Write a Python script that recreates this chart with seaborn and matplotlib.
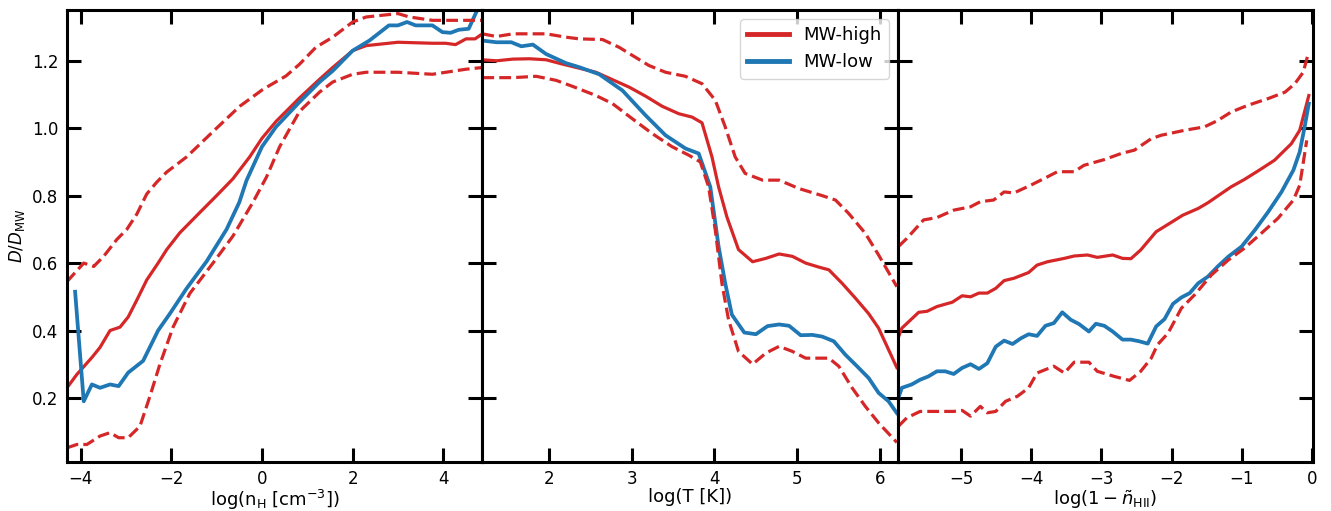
import seaborn as sns
import matplotlib
matplotlib.use("Agg")
import matplotlib.pyplot as plt

RED = "#d62728"
BLUE = "#1f77b4"

# --- panel 1: density ---
nh_x = [-4.3, -4.08, -3.75, -3.57, -3.35, -3.13, -2.95, -2.76, -2.54, -2.29, -2.10, -1.81,
        -1.37, -1.0, -0.64, -0.27, 0.0, 0.31, 0.83, 1.27, 1.56, 2.0, 2.3, 3.0, 3.76, 4.05,
        4.27, 4.5, 4.7, 4.86]
nh_high = [0.23, 0.27, 0.32, 0.35, 0.40, 0.41, 0.44, 0.49, 0.55, 0.60, 0.64, 0.69,
           0.75, 0.80, 0.85, 0.915, 0.97, 1.02, 1.09, 1.145, 1.18, 1.23, 1.245, 1.255, 1.252, 1.252,
           1.248, 1.265, 1.265, 1.28]
nh_up_x = [-4.3, -3.93, -3.71, -3.49, -3.2, -2.98, -2.76, -2.54, -2.32, -2.10, -1.66, -1.08,
           -0.49, 0.02, 0.53, 0.83, 1.19, 1.56, 2.0, 2.3, 3.0, 3.25, 3.76, 4.5, 4.86]
nh_up = [0.545, 0.60, 0.59, 0.62, 0.67, 0.70, 0.745, 0.805, 0.84, 0.87, 0.915, 0.99,
         1.065, 1.115, 1.155, 1.19, 1.24, 1.27, 1.315, 1.33, 1.34, 1.33, 1.32, 1.32, 1.32]
nh_lo_x = [-4.3, -4.08, -3.86, -3.57, -3.35, -3.16, -2.95, -2.69, -2.47, -2.25, -1.96, -1.59,
           -1.08, -0.64, -0.2, 0.1, 0.39, 0.83, 1.27, 1.56, 2.0, 2.3, 3.0, 3.76, 4.5, 4.86]
nh_lo = [0.052, 0.062, 0.062, 0.087, 0.097, 0.082, 0.082, 0.116, 0.205, 0.30, 0.41, 0.51,
         0.60, 0.68, 0.78, 0.855, 0.945, 1.05, 1.107, 1.137, 1.16, 1.166, 1.166, 1.16, 1.175, 1.18]
nh_low_x = [-4.12, -3.93, -3.75, -3.57, -3.35, -3.16, -2.95, -2.62, -2.29, -2.03, -1.66, -1.22,
            -0.78, -0.5, -0.34, 0.0, 0.31, 0.83, 1.27, 1.56, 2.0, 2.37, 2.8, 3.0, 3.2, 3.39, 3.76,
            3.98, 4.16, 4.34, 4.56, 4.78]
nh_low = [0.515, 0.19, 0.24, 0.23, 0.24, 0.235, 0.275, 0.31, 0.40, 0.45, 0.525, 0.605,
          0.70, 0.78, 0.845, 0.945, 1.004, 1.078, 1.137, 1.17, 1.23, 1.26, 1.305, 1.305, 1.315,
          1.305, 1.305, 1.285, 1.283, 1.292, 1.295, 1.36]

# --- panel 2: temperature ---
t_x = [1.2, 1.37, 1.57, 1.77, 1.97, 2.17, 2.37, 2.57, 2.77, 2.97, 3.17, 3.37, 3.57, 3.73,
       3.85, 3.97, 4.05, 4.15, 4.29, 4.46, 4.62, 4.78, 4.94, 5.10, 5.26, 5.38, 5.54, 5.70,
       5.86, 5.98, 6.2]
t_high = [1.203, 1.2, 1.205, 1.206, 1.203, 1.19, 1.178, 1.166, 1.144, 1.122, 1.095, 1.065,
          1.043, 1.033, 1.016, 0.915, 0.826, 0.737, 0.64, 0.604, 0.614, 0.627, 0.62, 0.60,
          0.588, 0.58, 0.54, 0.496, 0.45, 0.407, 0.29]
t_up_x = [1.2, 1.37, 1.57, 1.97, 2.21, 2.37, 2.65, 2.85, 3.05, 3.21, 3.41, 3.65, 3.85, 4.01,
          4.13, 4.25, 4.37, 4.58, 4.78, 5.02, 5.30, 5.46, 5.62, 5.82, 5.98, 6.2]
t_up = [1.28, 1.272, 1.28, 1.28, 1.27, 1.265, 1.263, 1.24, 1.21, 1.186, 1.166, 1.154, 1.132,
        1.083, 1.004, 0.915, 0.866, 0.846, 0.846, 0.821, 0.80, 0.787, 0.747, 0.688, 0.624, 0.53]
t_lo_x = [1.2, 1.57, 1.85, 2.09, 2.29, 2.57, 2.77, 3.01, 3.25, 3.49, 3.69, 3.83, 3.93, 4.01,
          4.09, 4.17, 4.29, 4.46, 4.62, 4.78, 4.94, 5.10, 5.38, 5.50, 5.66, 5.82, 5.98, 6.2]
t_lo = [1.15, 1.15, 1.154, 1.142, 1.124, 1.097, 1.073, 1.028, 0.984, 0.945, 0.92, 0.90,
        0.826, 0.698, 0.54, 0.432, 0.338, 0.30, 0.333, 0.353, 0.338, 0.318, 0.318, 0.294,
        0.23, 0.175, 0.126, 0.068]
t_low_x = [1.2, 1.37, 1.55, 1.67, 1.81, 1.97, 2.21, 2.37, 2.61, 2.89, 3.17, 3.41, 3.65, 3.81,
           3.95, 4.05, 4.13, 4.21, 4.36, 4.50, 4.64, 4.78, 4.90, 5.04, 5.18, 5.30, 5.44, 5.58,
           5.72, 5.86, 5.98, 6.10, 6.2]
t_low = [1.26, 1.255, 1.255, 1.243, 1.248, 1.22, 1.193, 1.181, 1.16, 1.112, 1.038, 0.979,
         0.94, 0.925, 0.826, 0.649, 0.54, 0.447, 0.394, 0.389, 0.413, 0.418, 0.414, 0.386,
         0.387, 0.382, 0.368, 0.328, 0.294, 0.259, 0.215, 0.19, 0.155]

# --- panel 3: neutral fraction ---
f_x = [-5.9, -5.85, -5.61, -5.49, -5.35, -5.13, -4.99, -4.87, -4.75, -4.63, -4.51, -4.39,
       -4.25, -4.04, -3.92, -3.77, -3.53, -3.39, -3.20, -3.06, -2.84, -2.70, -2.58, -2.44,
       -2.22, -2.01, -1.84, -1.62, -1.48, -1.34, -1.15, -0.96, -0.76, -0.53, -0.29, -0.17,
       -0.04]
f_high = [0.38, 0.407, 0.454, 0.457, 0.471, 0.484, 0.503, 0.50, 0.511, 0.511, 0.525, 0.548,
          0.555, 0.572, 0.594, 0.604, 0.614, 0.621, 0.624, 0.617, 0.624, 0.614, 0.613, 0.639,
          0.693, 0.72, 0.742, 0.762, 0.779, 0.799, 0.826, 0.848, 0.874, 0.905, 0.954, 0.994,
          1.097]
f_up_x = [-5.9, -5.78, -5.54, -5.35, -5.11, -4.87, -4.73, -4.54, -4.39, -4.25, -4.01, -3.77,
          -3.63, -3.39, -3.25, -2.96, -2.72, -2.53, -2.29, -2.15, -1.81, -1.53, -1.34, -1.15,
          -0.91, -0.62, -0.38, -0.24, -0.12, -0.05]
f_up = [0.649, 0.673, 0.728, 0.735, 0.757, 0.767, 0.782, 0.787, 0.811, 0.808, 0.831, 0.856,
        0.871, 0.871, 0.89, 0.907, 0.925, 0.935, 0.969, 0.979, 0.994, 1.004, 1.023, 1.048,
        1.068, 1.088, 1.107, 1.132, 1.166, 1.22]
f_lo_x = [-5.9, -5.78, -5.59, -5.35, -5.11, -4.99, -4.87, -4.73, -4.63, -4.51, -4.37, -4.20,
          -4.04, -3.92, -3.68, -3.53, -3.39, -3.18, -3.06, -2.82, -2.60, -2.44, -2.29, -2.20,
          -2.05, -1.86, -1.67, -1.43, -1.19, -0.96, -0.72, -0.48, -0.26, -0.17, -0.07]
f_lo = [0.116, 0.141, 0.16, 0.16, 0.16, 0.163, 0.146, 0.175, 0.156, 0.16, 0.19, 0.205,
        0.23, 0.274, 0.294, 0.274, 0.306, 0.306, 0.279, 0.264, 0.252, 0.279, 0.318, 0.358,
        0.392, 0.466, 0.506, 0.565, 0.609, 0.644, 0.688, 0.733, 0.787, 0.831, 0.964]
f_low_x = [-5.9, -5.85, -5.71, -5.59, -5.47, -5.35, -5.23, -5.11, -4.99, -4.87, -4.75, -4.63,
           -4.51, -4.39, -4.27, -4.15, -4.04, -3.92, -3.80, -3.68, -3.56, -3.44, -3.32, -3.18,
           -3.08, -2.96, -2.84, -2.70, -2.58, -2.46, -2.34, -2.22, -2.10, -1.98, -1.86, -1.74,
           -1.62, -1.48, -1.34, -1.19, -1.00, -0.81, -0.62, -0.43, -0.26, -0.17, -0.10, -0.04]
f_low = [0.20, 0.23, 0.24, 0.254, 0.264, 0.279, 0.279, 0.271, 0.289, 0.30, 0.286, 0.303,
         0.352, 0.37, 0.36, 0.377, 0.389, 0.384, 0.414, 0.422, 0.454, 0.432, 0.419, 0.397,
         0.42, 0.414, 0.397, 0.373, 0.373, 0.368, 0.361, 0.412, 0.434, 0.479, 0.498, 0.511,
         0.54, 0.56, 0.59, 0.619, 0.649, 0.698, 0.752, 0.811, 0.876, 0.93, 1.004, 1.073]

panels = [
    (nh_x, nh_high, nh_up_x, nh_up, nh_lo_x, nh_lo, nh_low_x, nh_low),
    (t_x, t_high, t_up_x, t_up, t_lo_x, t_lo, t_low_x, t_low),
    (f_x, f_high, f_up_x, f_up, f_lo_x, f_lo, f_low_x, f_low),
]
xlabels = [r"log(n$_{\rm H}$ [cm$^{-3}$])", "log(T [K])", r"$\log(1-\tilde{n}_{\rm HII})$"]
xlims = [(-4.3, 4.86), (1.2, 6.21), (-5.91, 0.02)]
xticks = [[-4, -2, 0, 2, 4], [2, 3, 4, 5, 6], [-5, -4, -3, -2, -1, 0]]

plt.rcParams["axes.linewidth"] = 2.2
plt.rcParams["font.size"] = 12

fig, axes = plt.subplots(1, 3, figsize=(13.31, 5.11), dpi=100, sharey=True)
fig.subplots_adjust(left=0.0503, right=0.9865, bottom=0.0959, top=0.980, wspace=0)

lw = 2.3
for i, (ax, p) in enumerate(zip(axes, panels)):
    hx, hy, ux, uy, lx, ly, wx, wy = p
    sns.lineplot(x=hx, y=hy, color=RED, lw=lw, ax=ax, label="MW-high")
    sns.lineplot(x=wx, y=wy, color=BLUE, lw=lw + 0.4, ax=ax, label="MW-low")
    sns.lineplot(x=ux, y=uy, color=RED, lw=lw, ls="--", ax=ax)
    sns.lineplot(x=lx, y=ly, color=RED, lw=lw, ls="--", ax=ax)
    if ax.get_legend() is not None:
        ax.get_legend().remove()
    ax.set_xlim(*xlims[i])
    ax.set_ylim(0.01, 1.35)
    ax.set_xticks(xticks[i])
    ax.set_yticks([0.2, 0.4, 0.6, 0.8, 1.0, 1.2])
    ax.set_xlabel(xlabels[i], fontsize=13, labelpad=0)
    ax.tick_params(direction="in", length=10, width=2.2, top=True, right=True,
                   labelsize=12, pad=6)
    if i > 0:
        ax.tick_params(labelleft=False)

axes[0].set_ylabel(r"$D/D_{\rm MW}$", fontsize=12)
axes[0].set_yticklabels(["0.2", "0.4", "0.6", "0.8", "1.0", "1.2"])

handles, labels = axes[1].get_legend_handles_labels()
leg = axes[1].legend(handles[:2], labels[:2], loc="upper right", fontsize=13, handlelength=2.3)
for line in leg.get_lines():
    line.set_linewidth(3.5)

fig.savefig("out.png", dpi=100)
